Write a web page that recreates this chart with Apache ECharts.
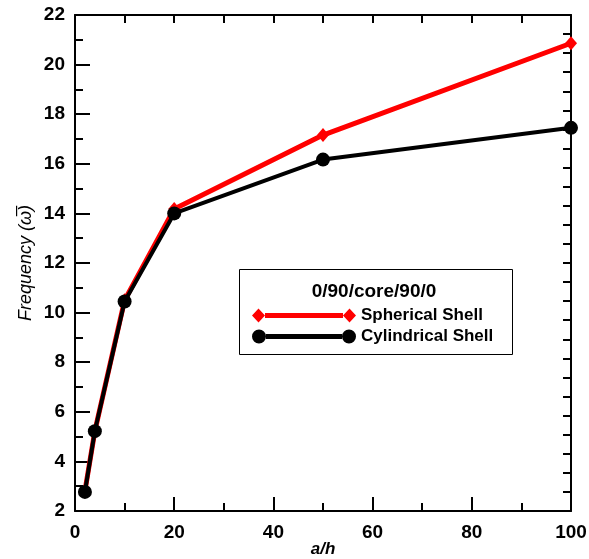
<!DOCTYPE html>
<html>
<head>
<meta charset="utf-8">
<script src="https://cdn.jsdelivr.net/npm/echarts@6/dist/echarts.min.js"></script>
<style>
html,body{margin:0;padding:0;background:#fff;overflow:hidden;}
#chart{width:589px;height:559px;}
</style>
</head>
<body>
<div id="chart"></div>
<script>
// ---- data ----
var aOverH = [2, 4, 10, 20, 50, 100];
var spherical = [2.8, 5.22, 10.5, 14.18, 17.16, 20.86];
var cylindrical = [2.77, 5.22, 10.45, 14.0, 16.17, 17.45];
var seriesNames = ['Spherical Shell', 'Cylindrical Shell'];
var legendTitle = '0/90/core/90/0';
var xTicks = {min: 0, max: 100, interval: 20};
var yTicks = {min: 2, max: 22, interval: 2};
var rightTicks = {min: 0, max: 26, interval: 1};
var xName = 'a/h';
var yName = 'Frequency (\u03C9\u0305)';

var FONT = '"Liberation Sans", Arial, sans-serif';
var chart = echarts.init(document.getElementById('chart'), null, {renderer: 'canvas'});

function pairs(xs, ys) { return xs.map(function (x, i) { return [x, ys[i]]; }); }

var diamondIcon = 'path://M0,7 L6.5,0 L13,7 L6.5,14 Z M13,4.5 L91,4.5 L91,9.5 L13,9.5 Z M91,7 L97.5,0 L104,7 L97.5,14 Z';
var circleIcon = 'path://M0,7 A7,7 0 1,1 14,7 A7,7 0 1,1 0,7 Z M14,4.5 L90,4.5 L90,9.5 L14,9.5 Z M90,7 A7,7 0 1,1 104,7 A7,7 0 1,1 90,7 Z';

var axisLine = {show: true, onZero: false, lineStyle: {color: '#000', width: 2}};

chart.setOption({
  animation: false,
  backgroundColor: '#fff',
  grid: {left: 75, right: 18, top: 15, bottom: 48, containLabel: false, outerBoundsMode: 'none'},
  xAxis: [{
    type: 'value', position: 'bottom',
    min: xTicks.min, max: xTicks.max, interval: xTicks.interval,
    name: xName, nameLocation: 'middle', nameGap: 30, nameMoveOverlap: false,
    nameTextStyle: {fontFamily: FONT, fontSize: 17, fontWeight: 'bold', fontStyle: 'italic', color: '#000'},
    axisLine: axisLine,
    axisTick: {show: true, inside: true, length: 14, lineStyle: {color: '#000', width: 2}},
    minorTick: {show: true, splitNumber: 2, length: 8, lineStyle: {color: '#000', width: 2}},
    axisLabel: {fontFamily: FONT, fontSize: 19, fontWeight: 'bold', color: '#000', margin: 12},
    splitLine: {show: false}
  }, {
    type: 'value', position: 'top',
    min: xTicks.min, max: xTicks.max, interval: 10,
    axisLine: axisLine,
    axisTick: {show: true, inside: true, length: 8, lineStyle: {color: '#000', width: 2}},
    axisLabel: {show: false},
    splitLine: {show: false}
  }],
  yAxis: [{
    type: 'value', position: 'left',
    min: yTicks.min, max: yTicks.max, interval: yTicks.interval,
    name: yName, nameLocation: 'middle', nameGap: 40, nameMoveOverlap: false,
    nameTextStyle: {fontFamily: FONT, fontSize: 18, fontStyle: 'italic', color: '#000'},
    axisLine: axisLine,
    axisTick: {show: true, inside: true, length: 15, lineStyle: {color: '#000', width: 2}},
    minorTick: {show: true, splitNumber: 2, length: 8, lineStyle: {color: '#000', width: 2}},
    axisLabel: {fontFamily: FONT, fontSize: 19, fontWeight: 'bold', color: '#000', margin: 10},
    splitLine: {show: false}
  }, {
    type: 'value', position: 'right',
    min: rightTicks.min, max: rightTicks.max, interval: rightTicks.interval,
    axisLine: axisLine,
    axisTick: {show: true, inside: true, length: 8, lineStyle: {color: '#000', width: 2}},
    axisLabel: {show: false},
    splitLine: {show: false}
  }],
  legend: {
    orient: 'vertical', left: 252, top: 307,
    itemWidth: 104, itemHeight: 14, itemGap: 4, padding: 0,
    data: [
      {name: seriesNames[0], icon: diamondIcon},
      {name: seriesNames[1], icon: circleIcon}
    ],
    itemStyle: {borderWidth: 0},
    textStyle: {fontFamily: FONT, fontSize: 17, fontWeight: 'bold', color: '#000'},
    selectedMode: false
  },
  graphic: [
    {type: 'rect', left: 239, top: 269, z: 1,
     shape: {width: 273, height: 85},
     style: {fill: '#fff', stroke: '#000', lineWidth: 1}},
    {type: 'text', z: 2, x: 374, y: 292,
     style: {text: legendTitle, font: 'bold 19px ' + FONT, fill: '#000', textAlign: 'center', textVerticalAlign: 'middle'}}
  ],
  series: [{
    name: seriesNames[0], type: 'line', xAxisIndex: 0, yAxisIndex: 0,
    data: pairs(aOverH, spherical),
    symbol: 'diamond', symbolSize: [12, 14],
    lineStyle: {color: '#ff0000', width: 5},
    itemStyle: {color: '#ff0000', borderWidth: 0},
    z: 3
  }, {
    name: seriesNames[1], type: 'line', xAxisIndex: 0, yAxisIndex: 0,
    data: pairs(aOverH, cylindrical),
    symbol: 'circle', symbolSize: 14,
    lineStyle: {color: '#000', width: 4},
    itemStyle: {color: '#000', borderWidth: 0},
    z: 4
  }]
});
</script>
</body>
</html>
